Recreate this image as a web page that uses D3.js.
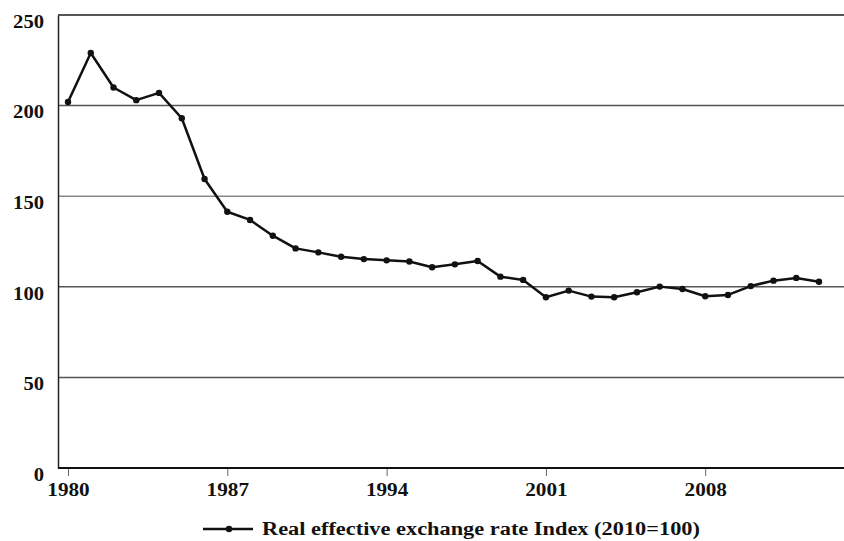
<!DOCTYPE html>
<html><head><meta charset="utf-8">
<script src="https://cdn.jsdelivr.net/npm/d3@7"></script>
<style>body{margin:0;background:#fff}svg{display:block}</style>
</head><body>
<svg id="c" width="844" height="541"></svg>
<script>
const years = d3.range(1980, 2014);
const reerValues = [202, 229, 210, 203, 207, 193, 159.5, 141.4, 136.9, 128.2, 121.2, 119.0, 116.6, 115.3, 114.6, 114.0, 110.8, 112.4, 114.2, 105.6, 103.8, 94.2, 97.9, 94.6, 94.2, 97.0, 100.1, 98.8, 94.8, 95.5, 100.4, 103.4, 104.9, 102.8];
const xTickLabels = [1980, 1987, 1994, 2001, 2008];
const yTickLabels = [0, 50, 100, 150, 200, 250];
const seriesName = "Real effective exchange rate Index (2010=100)";

const svg = d3.select("#c");
const font = "'Liberation Serif', serif";
const x = d3.scaleLinear().domain([1980, 2013]).range([68, 819]);
const y = d3.scaleLinear().domain([0, 250]).range([468, 15]);
const left = 58, right = 844;

// gridlines
svg.append("g").selectAll("line").data(yTickLabels.filter(d => d > 0)).join("line")
  .attr("x1", left).attr("x2", right)
  .attr("y1", d => y(d)).attr("y2", d => y(d))
  .attr("stroke", d => d === 150 ? "#8a8a8a" : "#555")
  .attr("stroke-width", d => d === 250 ? 2 : 1.5);

// y axis
const yAxis = svg.append("g").attr("transform", `translate(${left},0)`)
  .call(d3.axisLeft(y).tickValues(yTickLabels).tickSize(0).tickPadding(14));
yAxis.select(".domain").attr("stroke", "#222").attr("stroke-width", 1.5);
yAxis.selectAll("text").attr("font-family", font).attr("font-weight", "bold")
  .attr("font-size", 18).attr("fill", "#111").attr("dy", "0.68em")
  .attr("textLength", d => String(d).length * 10.3).attr("lengthAdjust", "spacingAndGlyphs");

// x axis
const xAxis = svg.append("g").attr("transform", `translate(0,${y(0)})`)
  .call(d3.axisBottom(x).tickValues(xTickLabels).tickFormat(d3.format("d")).tickSize(8).tickPadding(7));
xAxis.select(".domain").remove();
xAxis.selectAll(".tick line").attr("stroke", "#666").attr("stroke-width", 1);
xAxis.selectAll("text").attr("font-family", font).attr("font-weight", "bold")
  .attr("font-size", 18).attr("fill", "#111")
  .attr("textLength", d => String(d).length * 10.6).attr("lengthAdjust", "spacingAndGlyphs");
svg.append("line").attr("x1", left).attr("x2", right).attr("y1", y(0)).attr("y2", y(0))
  .attr("stroke", "#111").attr("stroke-width", 2);

// series line
const line = d3.line().x((d, i) => x(years[i])).y(d => y(d));
svg.append("path").datum(reerValues).attr("d", line)
  .attr("fill", "none").attr("stroke", "#111").attr("stroke-width", 2.5).attr("stroke-linejoin", "round");
svg.append("g").selectAll("circle").data(reerValues).join("circle")
  .attr("cx", (d, i) => x(years[i])).attr("cy", d => y(d)).attr("r", 3.2).attr("fill", "#111");

// legend
const lg = svg.append("g");
lg.append("line").attr("x1", 203).attr("x2", 253).attr("y1", 529).attr("y2", 529)
  .attr("stroke", "#111").attr("stroke-width", 2.5);
lg.append("circle").attr("cx", 229).attr("cy", 529).attr("r", 3.2).attr("fill", "#111");
lg.append("text").attr("x", 262).attr("y", 534.5).text(seriesName)
  .attr("font-family", font).attr("font-weight", "bold").attr("font-size", 18).attr("fill", "#111")
  .attr("textLength", 438).attr("lengthAdjust", "spacingAndGlyphs");
</script>
</body></html>
